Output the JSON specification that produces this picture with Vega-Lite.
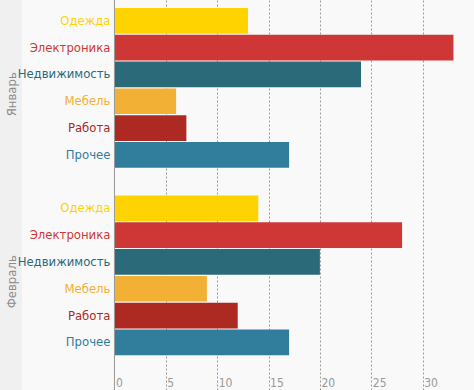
{
  "$schema": "https://vega.github.io/schema/vega-lite/v6.json",
  "width": 452,
  "height": 390,
  "autosize": {"type": "none"},
  "padding": {"left": 22, "top": 0, "right": 0, "bottom": 0},
  "background": "#f0f0f0",
  "config": {"view": {"fill": "#f9f9f9", "stroke": null}},
  "data": {
    "values": [
      {"month": "Январь", "category": "Одежда", "key": "Январь|Одежда", "value": 13},
      {"month": "Январь", "category": "Электроника", "key": "Январь|Электроника", "value": 33},
      {"month": "Январь", "category": "Недвижимость", "key": "Январь|Недвижимость", "value": 24},
      {"month": "Январь", "category": "Мебель", "key": "Январь|Мебель", "value": 6},
      {"month": "Январь", "category": "Работа", "key": "Январь|Работа", "value": 7},
      {"month": "Январь", "category": "Прочее", "key": "Январь|Прочее", "value": 17},
      {"month": "Февраль", "category": "Одежда", "key": "Февраль|Одежда", "value": 14},
      {"month": "Февраль", "category": "Электроника", "key": "Февраль|Электроника", "value": 28},
      {"month": "Февраль", "category": "Недвижимость", "key": "Февраль|Недвижимость", "value": 20},
      {"month": "Февраль", "category": "Мебель", "key": "Февраль|Мебель", "value": 9},
      {"month": "Февраль", "category": "Работа", "key": "Февраль|Работа", "value": 12},
      {"month": "Февраль", "category": "Прочее", "key": "Февраль|Прочее", "value": 17}
    ]
  },
  "layer": [
    {
      "mark": {"type": "bar"},
      "encoding": {
        "y": {
          "field": "key",
          "type": "nominal",
          "scale": {
            "domain": ["Январь|Одежда", "Январь|Электроника", "Январь|Недвижимость", "Январь|Мебель", "Январь|Работа", "Январь|Прочее", "gap1", "Февраль|Одежда", "Февраль|Электроника", "Февраль|Недвижимость", "Февраль|Мебель", "Февраль|Работа", "Февраль|Прочее", "gap2"],
            "paddingInner": 0.04,
            "paddingOuter": 0.3
          },
          "axis": {
            "title": null,
            "domain": false,
            "ticks": false,
            "grid": false,
            "labelExpr": "split(datum.value,'|')[1] == 'Мебель' ? split(datum.value,'|')[0] : ''",
            "labelAngle": -90,
            "labelAlign": "center",
            "labelBaseline": "bottom",
            "labelOffset": -7,
            "labelPadding": 4,
            "labelFont": "DejaVu Sans Condensed, Liberation Sans Narrow, Roboto",
            "labelFontSize": 13,
            "labelColor": "#8c8c8c"
          }
        },
        "x": {
          "field": "value",
          "type": "quantitative",
          "scale": {"domain": [-9, 35], "nice": false, "zero": false},
          "axis": {
            "title": null,
            "values": [0, 5, 10, 15, 20, 25, 30],
            "domain": false,
            "ticks": false,
            "grid": true,
            "gridDash": [2, 2],
            "gridColor": "#9a9a9a",
            "labelAlign": "left",
            "labelBaseline": "top",
            "labelPadding": -13,
            "labelOffset": 1,
            "labelFont": "DejaVu Sans Condensed, Liberation Sans Narrow, Roboto",
            "labelFontSize": 12,
            "labelColor": "#9a9a9a"
          }
        },
        "x2": {"datum": 0},
        "color": {
          "field": "category",
          "type": "nominal",
          "scale": {
            "domain": ["Одежда", "Электроника", "Недвижимость", "Мебель", "Работа", "Прочее"],
            "range": ["#FFD300", "#CF3737", "#2B6B79", "#F2B035", "#AD2A22", "#307E9B"]
          },
          "legend": null
        }
      }
    },
    {
      "mark": {"type": "text", "align": "right", "baseline": "middle", "dx": -4, "font": "DejaVu Sans Condensed, Liberation Sans Narrow, Roboto", "fontSize": 13},
      "encoding": {
        "y": {"field": "key", "type": "nominal"},
        "x": {"datum": 0},
        "text": {"field": "category"},
        "color": {"field": "category", "type": "nominal"}
      }
    },
    {
      "data": {"values": [{}]},
      "mark": {"type": "rule", "color": "#9a9a9a", "strokeWidth": 1},
      "encoding": {"x": {"datum": 0}}
    }
  ]
}
